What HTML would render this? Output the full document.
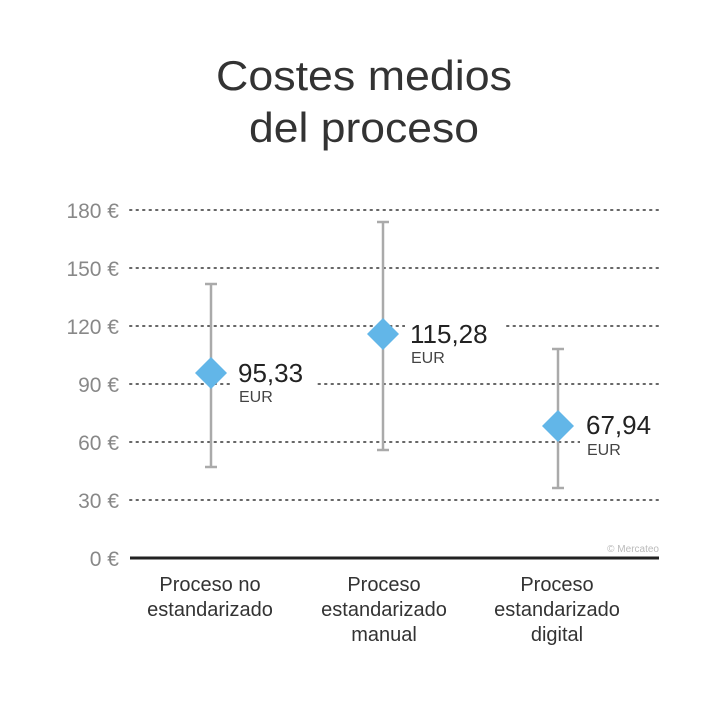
<!DOCTYPE html>
<html><head><meta charset="utf-8"><style>body{margin:0;background:#fff}svg{display:block}</style></head>
<body>
<svg width="720" height="713" viewBox="0 0 720 713" xmlns="http://www.w3.org/2000/svg" font-family="Liberation Sans, sans-serif">
<rect width="720" height="713" fill="#fff"/>
<text x="364" y="90" font-size="42" fill="#333" text-anchor="middle" textLength="296" lengthAdjust="spacingAndGlyphs">Costes medios</text>
<text x="364" y="142" font-size="42" fill="#333" text-anchor="middle" textLength="230" lengthAdjust="spacingAndGlyphs">del proceso</text>
<g stroke="#666" stroke-width="2" stroke-dasharray="1.5 5" stroke-linecap="round">
<line x1="130" y1="210" x2="658" y2="210"/>
<line x1="130" y1="268" x2="658" y2="268"/>
<line x1="130" y1="326" x2="658" y2="326"/>
<line x1="130" y1="384" x2="658" y2="384"/>
<line x1="130" y1="442" x2="658" y2="442"/>
<line x1="130" y1="500" x2="658" y2="500"/>
</g>
<line x1="130" y1="558" x2="659" y2="558" stroke="#222" stroke-width="3"/>
<g font-size="21" fill="#888" text-anchor="end">
<text x="119" y="218">180 €</text>
<text x="119" y="276">150 €</text>
<text x="119" y="334">120 €</text>
<text x="119" y="392">90 €</text>
<text x="119" y="450">60 €</text>
<text x="119" y="508">30 €</text>
<text x="119" y="566">0 €</text>
</g>
<text x="659" y="552" font-size="10" fill="#bbb" text-anchor="end">© Mercateo</text>
<g fill="#fff">
<rect x="233" y="350" width="82" height="56"/>
<rect x="405" y="312" width="98" height="56"/>
<rect x="580" y="404" width="82" height="56"/>
</g>
<g stroke="#aaa" stroke-width="2.5">
<line x1="211" y1="284" x2="211" y2="467"/><line x1="205" y1="284" x2="217" y2="284"/><line x1="205" y1="467" x2="217" y2="467"/>
<line x1="383" y1="222" x2="383" y2="450"/><line x1="377" y1="222" x2="389" y2="222"/><line x1="377" y1="450" x2="389" y2="450"/>
<line x1="558" y1="349" x2="558" y2="488"/><line x1="552" y1="349" x2="564" y2="349"/><line x1="552" y1="488" x2="564" y2="488"/>
</g>
<g fill="#62b6e8">
<polygon points="211,357 227,373 211,389 195,373"/>
<polygon points="383,318 399,334 383,350 367,334"/>
<polygon points="558,410 574,426 558,442 542,426"/>
</g>
<g fill="#222">
<text x="238" y="382" font-size="26">95,33</text><text x="239" y="402" font-size="16" fill="#444">EUR</text>
<text x="410" y="343" font-size="26">115,28</text><text x="411" y="363" font-size="16" fill="#444">EUR</text>
<text x="586" y="434" font-size="26">67,94</text><text x="587" y="455" font-size="16" fill="#444">EUR</text>
</g>
<g font-size="20" fill="#333" text-anchor="middle">
<text x="210" y="591">Proceso no</text><text x="210" y="616">estandarizado</text>
<text x="384" y="591">Proceso</text><text x="384" y="616">estandarizado</text><text x="384" y="641">manual</text>
<text x="557" y="591">Proceso</text><text x="557" y="616">estandarizado</text><text x="557" y="641">digital</text>
</g>
</svg>
</body></html>
